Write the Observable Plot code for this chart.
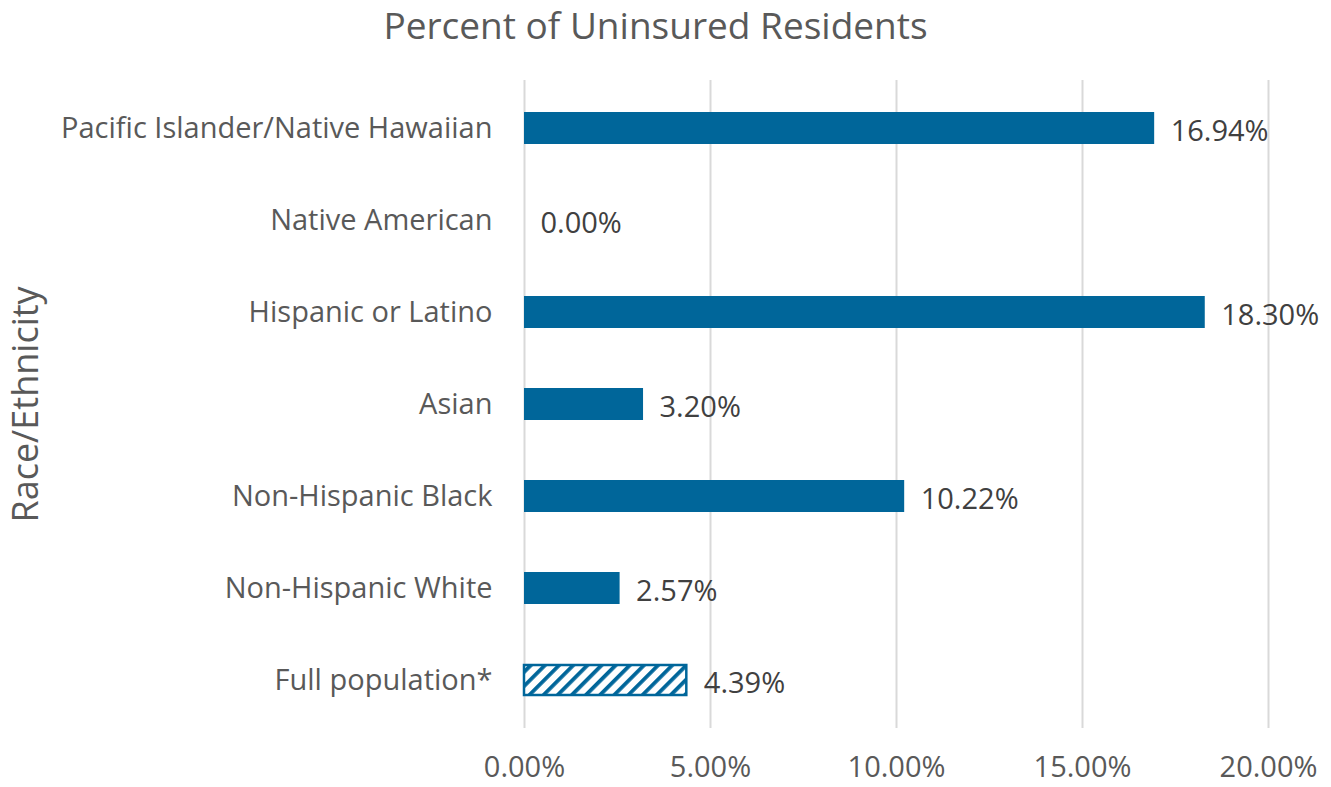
<!DOCTYPE html>
<html>
<head>
<meta charset="utf-8">
<script src="https://cdn.jsdelivr.net/npm/d3@7"></script>
<script src="https://cdn.jsdelivr.net/npm/@observablehq/plot@0.6"></script>
<style>
  html, body { margin: 0; padding: 0; background: #fff; }
  body { width: 1331px; height: 787px; overflow: hidden; font-family: "Open Sans", sans-serif; }
  #title { height: 62px; line-height: 50px; font-size: 37px; color: #595959; text-align: center; width: 1311px; }
</style>
</head>
<body>
<div id="title">Percent of Uninsured Residents</div>
<div id="chart"></div>
<script>
const categories = [
  "Pacific Islander/Native Hawaiian",
  "Native American",
  "Hispanic or Latino",
  "Asian",
  "Non-Hispanic Black",
  "Non-Hispanic White",
  "Full population*"
];
const values = [16.94, 0.00, 18.30, 3.20, 10.22, 2.57, 4.39];
const hatched = [false, false, false, false, false, false, true];
const xTicks = [0, 5, 10, 15, 20];

const data = categories.map((c, i) => ({category: c, value: values[i], hatched: hatched[i]}));
const barColor = "#00669A";

const plot = Plot.plot({
  width: 1331,
  height: 725,
  marginLeft: 524,
  marginRight: 63,
  marginTop: 18,
  marginBottom: 59,
  style: {fontFamily: "'Open Sans', sans-serif", background: "#fff"},
  x: {domain: [0, 20], ticks: xTicks},
  y: {domain: categories, padding: 0.65, paddingOuter: 0.33},
  marks: [
    Plot.ruleX(xTicks, {stroke: "#d9d9d9", strokeWidth: 2}),
    Plot.axisX({ticks: xTicks, tickSize: 0, tickPadding: 28, tickFormat: d => d.toFixed(2) + "%",
      fontSize: 29, color: "#595959", label: null}),
    Plot.axisY({tickSize: 0, tickPadding: 32, fontSize: 29, color: "#595959",
      label: "Race/Ethnicity", labelAnchor: "center", labelArrow: "none", labelOffset: 512}),
    Plot.barX(data.filter(d => !d.hatched), {x: "value", y: "category", fill: barColor}),
    Plot.barX(data.filter(d => d.hatched), {x: "value", y: "category", fill: "url(#hatch)",
      stroke: barColor, strokeWidth: 2.5, insetTop: 1, insetBottom: 1, insetRight: 1}),
    Plot.text(data, {x: "value", y: "category", text: d => d.value.toFixed(2) + "%",
      textAnchor: "start", dx: 16, dy: 3, fontSize: 29, fill: "#404040"})
  ]
});

// hatch pattern definition
const svg = d3.select(plot);
const defs = svg.insert("defs", ":first-child");
const pat = defs.append("pattern")
  .attr("id", "hatch")
  .attr("patternUnits", "userSpaceOnUse")
  .attr("width", 10).attr("height", 10)
  .attr("patternTransform", "rotate(45)");
pat.append("rect").attr("width", 10).attr("height", 10).attr("fill", "#fff");
pat.append("rect").attr("x", 0).attr("width", 3.8).attr("height", 10).attr("fill", barColor);

// y-axis label size
svg.selectAll("[aria-label='y-axis label'] text").style("font-size", "36px");

document.getElementById("chart").appendChild(plot);
</script>
</body>
</html>
